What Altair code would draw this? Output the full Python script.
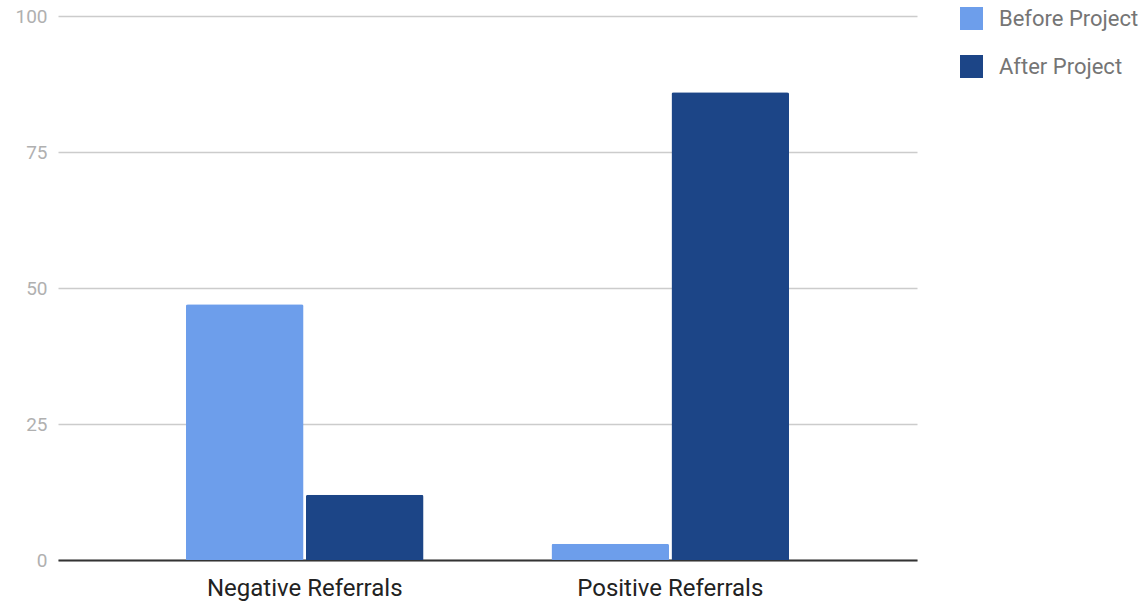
import altair as alt
import pandas as pd

categories = ["Negative Referrals", "Positive Referrals"]
series = ["Before Project", "After Project"]
before_values = [47, 3]
after_values = [12, 86]
y_ticks = [0, 25, 50, 75, 100]

rows = []
for cat, b, a in zip(categories, before_values, after_values):
    rows.append({"category": cat, "series": series[0], "value": b})
    rows.append({"category": cat, "series": series[1], "value": a})
df = pd.DataFrame(rows)

chart = (
    alt.Chart(df)
    .mark_bar(cornerRadiusTopLeft=2, cornerRadiusTopRight=2)
    .encode(
        x=alt.X(
            "category:N",
            sort=categories,
            title=None,
            scale=alt.Scale(paddingInner=0.35, paddingOuter=0.35),
            axis=alt.Axis(
                labelAngle=0,
                labelFontSize=24,
                labelColor="#222222",
                labelFont="Roboto",
                labelPadding=16,
                labelLimit=400,
                ticks=False,
                domainColor="#333333",
                domainWidth=2,
                grid=False,
            ),
        ),
        xOffset=alt.XOffset(
            "series:N", sort=series, scale=alt.Scale(paddingInner=0.02)
        ),
        y=alt.Y(
            "value:Q",
            title=None,
            scale=alt.Scale(domain=[0, 100], nice=False),
            axis=alt.Axis(
                values=y_ticks,
                labelFontSize=19,
                labelColor="#b0b0b0",
                labelFont="Roboto",
                labelPadding=11,
                ticks=False,
                domain=False,
                gridColor="#cccccc",
                gridWidth=1.5,
            ),
        ),
        color=alt.Color(
            "series:N",
            sort=series,
            scale=alt.Scale(domain=series, range=["#6d9eeb", "#1c4587"]),
            legend=alt.Legend(
                title=None,
                orient="none",
                legendX=902,
                legendY=-9,
                symbolType="square",
                symbolSize=529,
                symbolStrokeWidth=0,
                labelFontSize=22,
                labelColor="#757575",
                labelFont="Roboto",
                labelOffset=16,
                labelLimit=300,
                rowPadding=25,
            ),
        ),
    )
    .properties(
        width=859,
        height=544,
        padding={"left": 58, "top": 16, "right": 230, "bottom": 42},
        autosize=alt.AutoSizeParams(type="none"),
    )
    .configure_view(stroke=None)
)

chart.save("out.html", embed_options={"renderer": "svg", "actions": False})
